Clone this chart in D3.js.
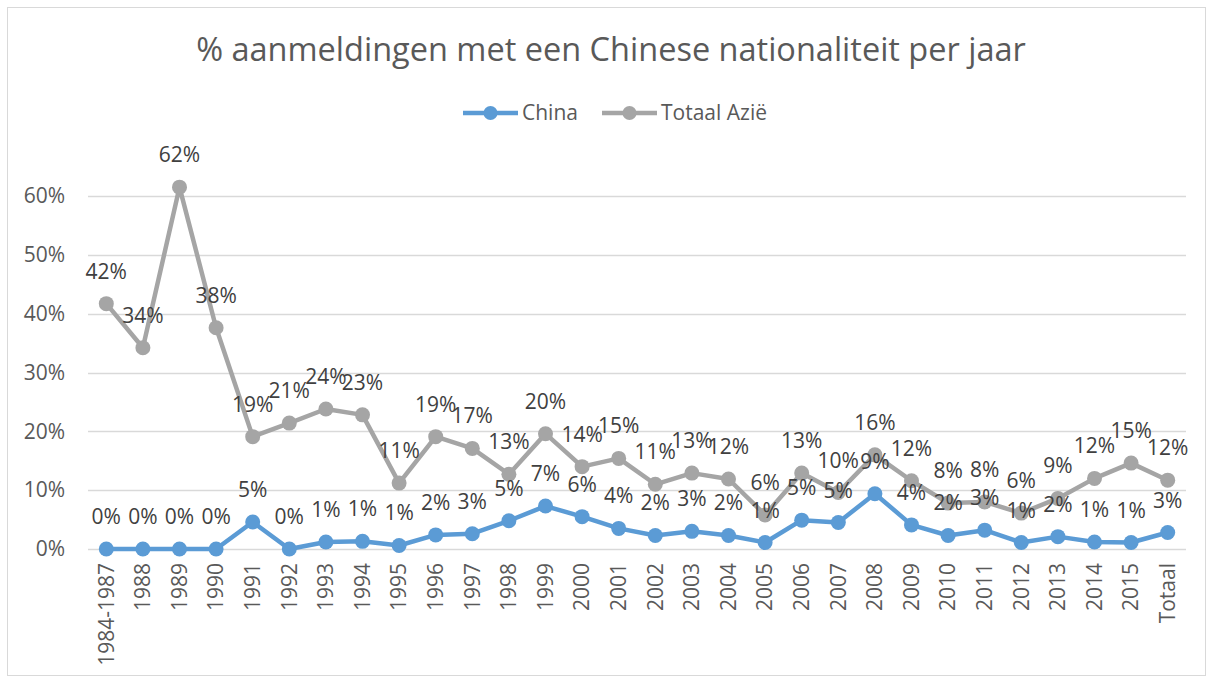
<!DOCTYPE html>
<html>
<head>
<meta charset="utf-8">
<script src="https://cdn.jsdelivr.net/npm/d3@7"></script>
<style>
  body { margin: 0; background: #fff; }
  svg { display: block; font-family: "Open Sans", sans-serif; }
</style>
</head>
<body>
<div id="chart"></div>
<script>
// categories and series (fractions)
const categories = ["1984-1987", "1988", "1989", "1990", "1991", "1992", "1993", "1994", "1995", "1996",
  "1997", "1998", "1999", "2000", "2001", "2002", "2003", "2004", "2005", "2006",
  "2007", "2008", "2009", "2010", "2011", "2012", "2013", "2014", "2015", "Totaal"];

const china = [0, 0, 0, 0, 0.046, 0, 0.012, 0.013, 0.006, 0.024,
  0.026, 0.048, 0.073, 0.055, 0.035, 0.023, 0.030, 0.023, 0.011, 0.049,
  0.045, 0.094, 0.041, 0.023, 0.032, 0.011, 0.021, 0.012, 0.011, 0.028];

const totaalAzie = [0.417, 0.342, 0.615, 0.376, 0.191, 0.214, 0.238, 0.228, 0.112, 0.191,
  0.171, 0.127, 0.196, 0.140, 0.154, 0.110, 0.129, 0.119, 0.058, 0.129,
  0.096, 0.160, 0.116, 0.078, 0.080, 0.061, 0.086, 0.120, 0.146, 0.117];

const yTicks = [0, 0.1, 0.2, 0.3, 0.4, 0.5, 0.6];

const series = [
  { name: "China", values: china, color: "#5b9bd5" },
  { name: "Totaal Azië", values: totaalAzie, color: "#a5a5a5" }
];

const width = 1213, height = 681;
const textColor = "#595959";
const font = "Open Sans, sans-serif";
const labelSize = "21px";

const svg = d3.select("#chart").append("svg")
  .attr("width", width)
  .attr("height", height);

// chart border
svg.append("rect")
  .attr("x", 7.5).attr("y", 7.5)
  .attr("width", 1198).attr("height", 668)
  .attr("fill", "#fff")
  .attr("stroke", "#d9d9d9");

const x = d3.scaleBand()
  .domain(categories)
  .range([88, 1186]);

const y = d3.scaleLinear()
  .domain([0, 0.6])
  .range([549, 196]);

const fmt = d3.format(".0%");

// gridlines
svg.append("g")
  .selectAll("line")
  .data(yTicks)
  .join("line")
  .attr("x1", 88).attr("x2", 1186)
  .attr("y1", d => Math.round(y(d)) + 0.5)
  .attr("y2", d => Math.round(y(d)) + 0.5)
  .attr("stroke", "#d9d9d9")
  .attr("stroke-width", 1.3);

// y axis labels
const yAxis = svg.append("g")
  .attr("transform", "translate(88,0)")
  .call(d3.axisLeft(y).tickValues(yTicks).tickFormat(fmt).tickSize(0).tickPadding(23));
yAxis.select(".domain").remove();
yAxis.selectAll("text")
  .attr("fill", textColor)
  .style("font-size", labelSize)
  .style("font-family", font);

// x axis labels
const xAxis = svg.append("g")
  .attr("transform", "translate(0,549)")
  .call(d3.axisBottom(x).tickSize(0));
xAxis.select(".domain").remove();
xAxis.selectAll("text")
  .attr("fill", textColor)
  .style("font-size", labelSize)
  .style("font-family", font)
  .attr("text-anchor", "end")
  .attr("transform", "rotate(-90)")
  .attr("x", -14)
  .attr("y", 0)
  .attr("dy", "0.35em");

const cx = d => x(d) + x.bandwidth() / 2;

const line = d3.line()
  .x((d, i) => cx(categories[i]))
  .y(d => y(d));

// lines and markers
series.forEach(s => {
  const g = svg.append("g");
  g.append("path")
    .datum(s.values)
    .attr("d", line)
    .attr("fill", "none")
    .attr("stroke", s.color)
    .attr("stroke-width", 4.5)
    .attr("stroke-linejoin", "round");
  g.selectAll("circle")
    .data(s.values)
    .join("circle")
    .attr("cx", (d, i) => cx(categories[i]))
    .attr("cy", d => y(d))
    .attr("r", 7.5)
    .attr("fill", s.color);
});

// data labels above each point
series.forEach(s => {
  svg.append("g")
    .selectAll("text")
    .data(s.values)
    .join("text")
    .attr("x", (d, i) => cx(categories[i]))
    .attr("y", d => y(d) - 25)
    .attr("text-anchor", "middle")
    .attr("fill", "#404040")
    .style("font-size", labelSize)
    .text(d => fmt(d));
});

// title
svg.append("text")
  .attr("x", 611)
  .attr("y", 61)
  .attr("text-anchor", "middle")
  .attr("fill", textColor)
  .style("font-size", "32.5px")
  .text("% aanmeldingen met een Chinese nationaliteit per jaar");

// legend
const legend = svg.append("g").attr("transform", "translate(0,113)");
const legendItems = [{ s: series[0], x: 463 }, { s: series[1], x: 602 }];
legendItems.forEach(it => {
  legend.append("line")
    .attr("x1", it.x).attr("x2", it.x + 55)
    .attr("stroke", it.s.color)
    .attr("stroke-width", 4.5);
  legend.append("circle")
    .attr("cx", it.x + 27.5)
    .attr("r", 7)
    .attr("fill", it.s.color);
  legend.append("text")
    .attr("x", it.x + 59)
    .attr("dy", "0.35em")
    .attr("fill", textColor)
    .style("font-size", labelSize)
    .text(it.s.name);
});
</script>
</body>
</html>
